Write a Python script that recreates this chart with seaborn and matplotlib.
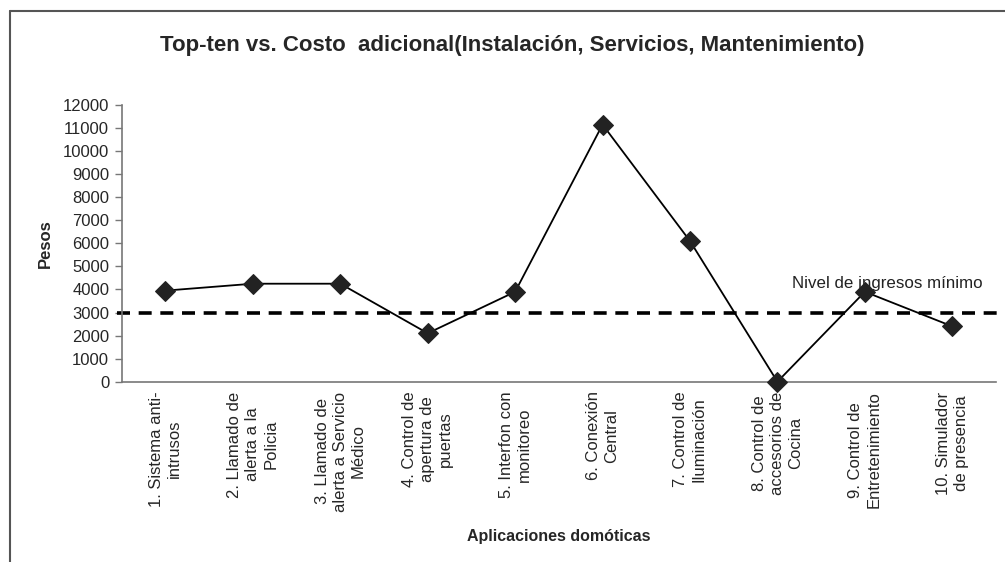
import numpy as np
import pandas as pd
import matplotlib
matplotlib.use("Agg")
import matplotlib.pyplot as plt
from matplotlib.lines import Line2D
from matplotlib.ticker import FixedLocator, NullFormatter
import seaborn as sns

categories = [
    "1. Sistema anti-\nintrusos",
    "2. Llamado de\nalerta a la\nPolicia",
    "3. Llamado de\nalerta a Servicio\nMédico",
    "4. Control de\napertura de\npuertas",
    "5. Interfon con\nmonitoreo",
    "6. Conexión\nCentral",
    "7. Control de\nIluminación",
    "8. Control de\naccesorios de\nCocina",
    "9. Control de\nEntretenimiento",
    "10. Simulador\nde presencia",
]
costos = [3950, 4250, 4250, 2100, 3900, 11150, 6100, 0, 3900, 2400]
nivel_minimo = 3000
y_ticks = list(range(0, 12001, 1000))

title = "Top-ten vs. Costo  adicional(Instalación, Servicios, Mantenimiento)"
x_label = "Aplicaciones domóticas"
y_label = "Pesos"
line_label = "Nivel de ingresos mínimo"

sns.set_style("white")
plt.rcParams["font.family"] = ["Liberation Sans", "DejaVu Sans"]

df = pd.DataFrame({"pos": np.arange(len(categories)), "costo": costos})

fig = plt.figure(figsize=(10.05, 5.62), dpi=100)
ax = fig.add_axes([121.7 / 1005, 180.3 / 562, (996 - 121.7) / 1005, (457 - 180.3) / 562])

ax.axhline(nivel_minimo, color="black", lw=2.6, linestyle=(0, (3.6, 2.4)),
           xmin=-0.005, xmax=1.006, clip_on=False, zorder=1)

sns.lineplot(data=df, x="pos", y="costo", ax=ax, color="black", lw=1.3,
             marker="D", markersize=10, markerfacecolor="#222222",
             markeredgecolor="#222222", sort=False, zorder=3)
for l in ax.lines:
    l.set_clip_on(False)

ax.set_xlim(-0.5, len(categories) - 0.5)
ax.set_ylim(0, 12000)
ax.set_yticks(y_ticks)
ax.set_yticklabels([str(v) for v in y_ticks], fontsize=12)
ax.set_xticks(np.arange(len(categories)))
ax.set_xticklabels(categories, rotation=90, fontsize=12, ha="center", va="top",
                   multialignment="center", linespacing=1.25)
ax.xaxis.set_minor_locator(FixedLocator(np.arange(len(categories) + 1) - 0.5))
ax.xaxis.set_minor_formatter(NullFormatter())
ax.tick_params(axis="x", which="major", length=0, pad=7)
ax.tick_params(axis="x", which="minor", length=5, width=1, color="#777777", direction="out")
ax.tick_params(axis="y", which="major", length=5, width=1, color="#777777", direction="out",
               left=True, pad=4)

for side in ["top", "right"]:
    ax.spines[side].set_visible(False)
for side in ["left", "bottom"]:
    ax.spines[side].set_color("#777777")
    ax.spines[side].set_linewidth(1.2)

ax.set_xlabel("")
ax.set_ylabel("")
fig.text(45 / 1005, 1 - 244 / 562, y_label, rotation=90, fontsize=12, fontweight="bold",
         ha="center", va="center")
fig.text(559 / 1005, 1 - 537 / 562, x_label, fontsize=11.5, fontweight="bold",
         ha="center", va="center")
fig.text(512 / 1005, 1 - 46 / 562, title, fontsize=16, fontweight="bold",
         family=["Liberation Sans", "DejaVu Sans"],
         ha="center", va="center")

ax.text(7.17, 4270, line_label, fontsize=12.2, ha="left", va="center", color="#222222")

# outer chart border (left and top)
fig.add_artist(Line2D([10 / 1005, 10 / 1005], [0, 1 - 11 / 562], color="#555555", lw=1.5,
                      transform=fig.transFigure))
fig.add_artist(Line2D([10 / 1005, 1], [1 - 11 / 562, 1 - 11 / 562], color="#555555", lw=1.5,
                      transform=fig.transFigure))

fig.savefig("out.png", dpi=100)
